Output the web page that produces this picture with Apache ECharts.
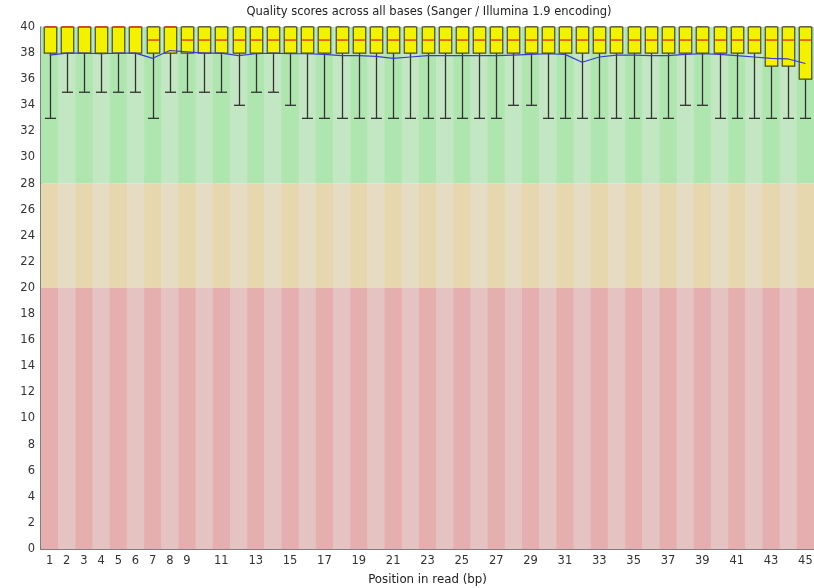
<!DOCTYPE html>
<html>
<head>
<meta charset="utf-8">
<title>Per base sequence quality</title>
<script src="https://cdn.jsdelivr.net/npm/echarts@6/dist/echarts.min.js"></script>
<style>
  html, body { margin: 0; padding: 0; background: #ffffff; }
  #chart { width: 814px; height: 588px; }
</style>
</head>
<body>
<div id="chart"></div>
<script>
// Read positions (bp)
const positions = ['1','2','3','4','5','6','7','8','9','10','11','12','13','14','15',
  '16','17','18','19','20','21','22','23','24','25','26','27','28','29','30',
  '31','32','33','34','35','36','37','38','39','40','41','42','43','44','45'];

// Per-position quality distribution (Phred scores)
const lowerWhisker = [33,35,35,35,35,35,33,35,35,35,35,34,35,35,34,
  33,33,33,33,33,33,33,33,33,33,33,33,34,34,33,
  33,33,33,33,33,33,33,34,34,33,33,33,33,33,33];
const lowerQuartile = [38,38,38,38,38,38,38,38,38,38,38,38,38,38,38,
  38,38,38,38,38,38,38,38,38,38,38,38,38,38,38,
  38,38,38,38,38,38,38,38,38,38,38,38,37,37,36];
const medianScore = [40,40,40,40,40,40,39,40,39,39,39,39,39,39,39,
  39,39,39,39,39,39,39,39,39,39,39,39,39,39,39,
  39,39,39,39,39,39,39,39,39,39,39,39,39,39,39];
const upperQuartile = [40,40,40,40,40,40,40,40,40,40,40,40,40,40,40,
  40,40,40,40,40,40,40,40,40,40,40,40,40,40,40,
  40,40,40,40,40,40,40,40,40,40,40,40,40,40,40];
const upperWhisker = [40,40,40,40,40,40,40,40,40,40,40,40,40,40,40,
  40,40,40,40,40,40,40,40,40,40,40,40,40,40,40,
  40,40,40,40,40,40,40,40,40,40,40,40,40,40,40];
const meanScore = [37.85,38.0,38.0,37.95,38.0,38.0,37.6,38.2,38.1,38.0,38.0,37.8,37.95,38.0,37.95,
  37.95,37.9,37.8,37.8,37.75,37.6,37.7,37.8,37.8,37.8,37.8,37.8,37.85,37.9,37.95,
  37.9,37.3,37.7,37.85,37.85,37.8,37.8,37.9,37.95,37.9,37.8,37.7,37.6,37.55,37.2];

// Quality zones: bad (0-20), acceptable (20-28), good (28-40)
const zoneEdges = [0, 20, 28, 40];
const zoneColorsDark = ['#e6afaf', '#e6d7af', '#afe6af'];
const zoneColorsLight = ['#e6c3c3', '#e6dcc3', '#c3e6c3'];

const yTicks = [0, 40, 2]; // min, max, step

const FONT = 'DejaVu Sans';

const boxRows = positions.map((p, i) => [i, lowerWhisker[i], lowerQuartile[i], medianScore[i], upperQuartile[i], upperWhisker[i]]);
const zoneRows = positions.map((p, i) => [i]);

const chart = echarts.init(document.getElementById('chart'), null, { renderer: 'canvas' });

chart.setOption({
  animation: false,
  backgroundColor: '#ffffff',
  grid: { left: 41, right: 0, top: 27, bottom: 39, containLabel: false, outerBoundsMode: 'none' },
  graphic: [{
    type: 'text',
    x: 429, y: 12,
    style: {
      text: 'Quality scores across all bases (Sanger / Illumina 1.9 encoding)',
      textAlign: 'center', textVerticalAlign: 'middle',
      fill: '#222', font: '11.5px "' + FONT + '"'
    }
  }],
  xAxis: {
    type: 'category',
    data: positions,
    boundaryGap: true,
    name: 'Position in read (bp)',
    nameLocation: 'middle',
    nameGap: 25,
    nameTextStyle: { fontFamily: FONT, fontSize: 11.8, color: '#222' },
    axisLine: { show: true, lineStyle: { color: '#555', width: 1.5 } },
    axisTick: { show: false },
    axisLabel: {
      fontFamily: FONT, fontSize: 11.5, color: '#333', margin: 6,
      interval: function (idx) { return idx < 9 || idx % 2 === 0; }
    },
    splitLine: { show: false }
  },
  yAxis: {
    type: 'value',
    min: yTicks[0], max: yTicks[1], interval: yTicks[2],
    axisLine: { show: true, lineStyle: { color: '#555', width: 1.5 } },
    axisTick: { show: false },
    axisLabel: { fontFamily: FONT, fontSize: 11.5, color: '#333', margin: 6 },
    splitLine: { show: false }
  },
  series: [
    {
      // Coloured quality zones, striped per position
      type: 'custom',
      z: 1,
      silent: true,
      clip: true,
      data: zoneRows,
      encode: { x: 0 },
      renderItem: function (params, api) {
        const idx = api.value(0);
        const w = api.size([1, 0])[0];
        const children = [];
        for (let b = 0; b < zoneEdges.length - 1; b++) {
          const top = api.coord([idx, zoneEdges[b + 1]]);
          const bot = api.coord([idx, zoneEdges[b]]);
          children.push({
            type: 'rect',
            shape: { x: top[0] - w / 2, y: top[1], width: w + 0.5, height: bot[1] - top[1] },
            style: { fill: idx % 2 === 0 ? zoneColorsDark[b] : zoneColorsLight[b] }
          });
        }
        return { type: 'group', children: children };
      }
    },
    {
      // Box-and-whisker per position with red median
      type: 'custom',
      z: 3,
      silent: true,
      data: boxRows,
      encode: { x: 0, y: [1, 2, 3, 4, 5] },
      renderItem: function (params, api) {
        const idx = api.value(0);
        const lo = api.coord([idx, api.value(1)]);
        const q1 = api.coord([idx, api.value(2)]);
        const md = api.coord([idx, api.value(3)]);
        const q3 = api.coord([idx, api.value(4)]);
        const hi = api.coord([idx, api.value(5)]);
        const cx = Math.round(lo[0]) + 0.5;
        const bw = 12.5, cw = 11;
        const dark = '#333333';
        return {
          type: 'group',
          children: [
            { type: 'line', shape: { x1: cx, y1: lo[1], x2: cx, y2: hi[1] }, style: { stroke: dark, lineWidth: 1.3 } },
            { type: 'line', shape: { x1: cx - cw / 2, y1: lo[1], x2: cx + cw / 2, y2: lo[1] }, style: { stroke: dark, lineWidth: 1.3 } },
            { type: 'line', shape: { x1: cx - cw / 2, y1: hi[1], x2: cx + cw / 2, y2: hi[1] }, style: { stroke: dark, lineWidth: 1.3 } },
            { type: 'rect', shape: { x: cx - bw / 2, y: q3[1], width: bw, height: q1[1] - q3[1] }, style: { fill: '#f2f200', stroke: '#4a4a2a', lineWidth: 1.2 } },
            { type: 'line', shape: { x1: cx - bw / 2 + 0.6, y1: md[1], x2: cx + bw / 2 - 0.6, y2: md[1] }, style: { stroke: '#e8401a', lineWidth: 1.5 } }
          ]
        };
      }
    },
    {
      name: 'Mean',
      type: 'line',
      z: 4,
      data: meanScore,
      symbol: 'none',
      smooth: false,
      silent: true,
      lineStyle: { color: '#3a3ad0', width: 1.2 }
    }
  ]
});
</script>
</body>
</html>
